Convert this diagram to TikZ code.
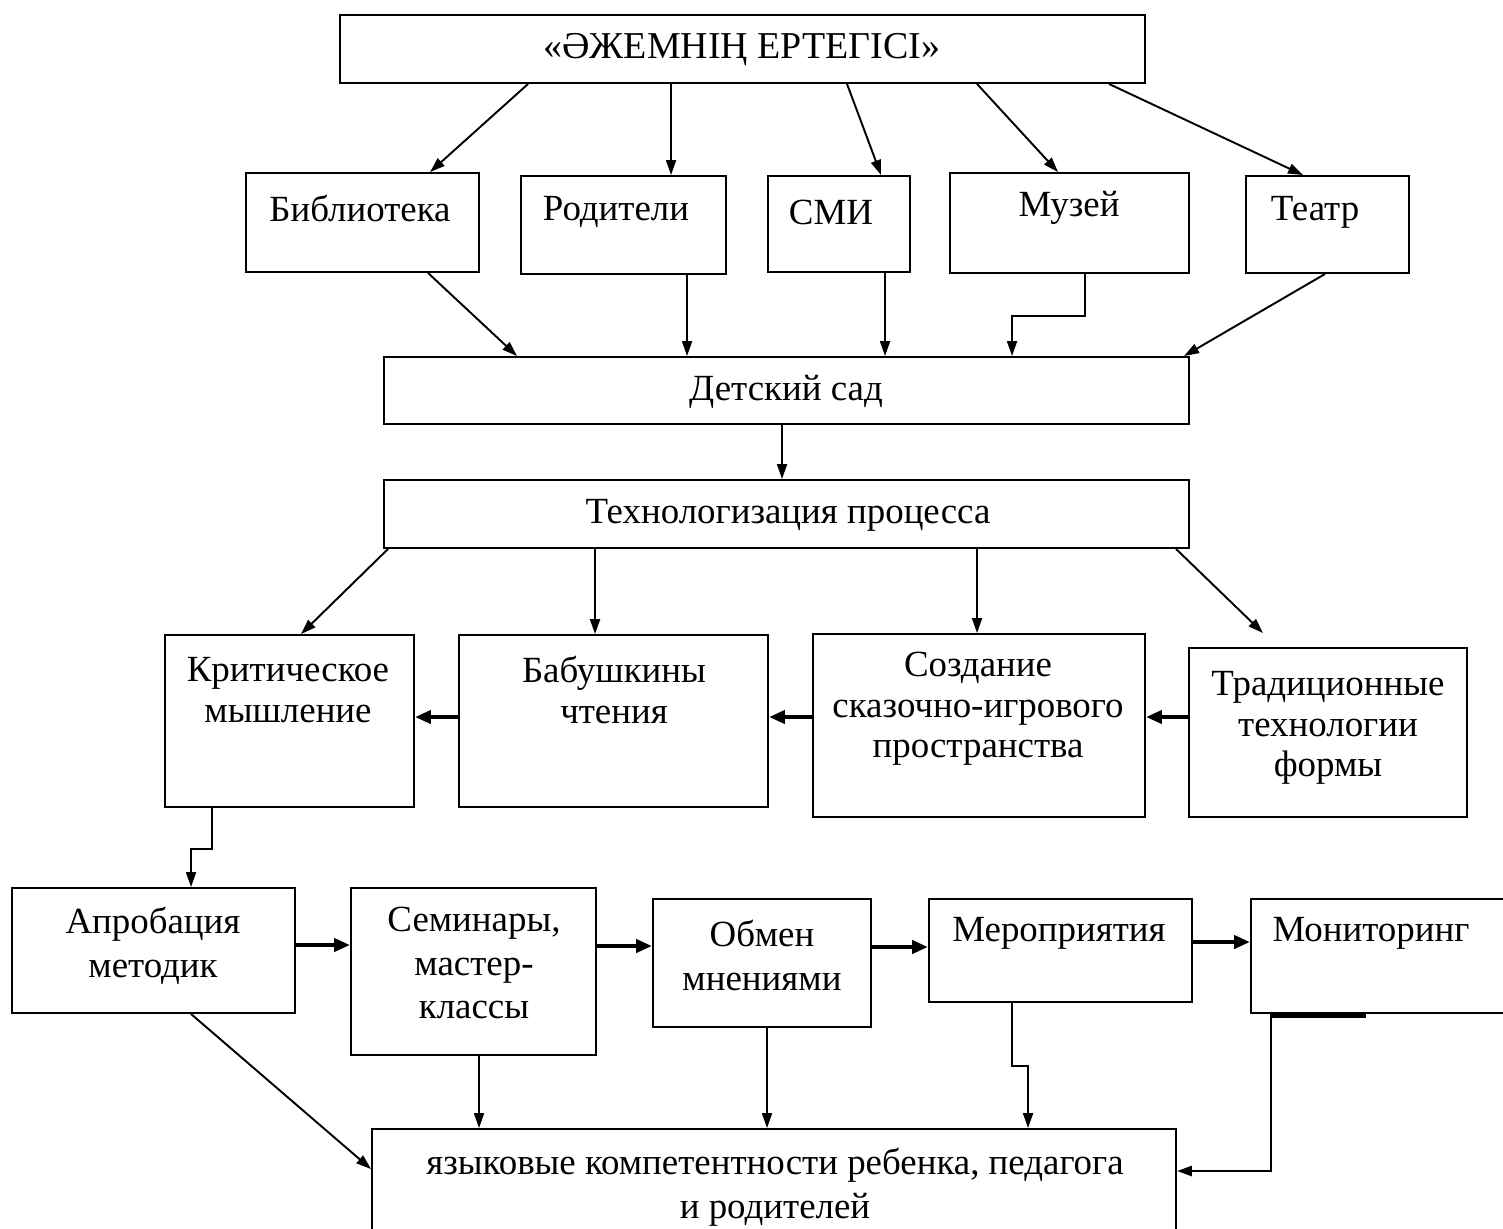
\documentclass[tikz,border=0pt]{standalone}
\usepackage{fontspec}
\setmainfont{Liberation Serif}
\usetikzlibrary{arrows.meta,calc}
\begin{document}
\begin{tikzpicture}[x=0.02cm,y=-0.02cm,
  box/.style n args={2}{draw,line width=1.1pt,inner sep=0pt,minimum width=#1*0.02cm,minimum height=#2*0.02cm},
  txt/.style={inner sep=0pt,align=center,font=\fontsize{21}{23}\selectfont},
  txtb/.style={inner sep=0pt,align=center,font=\fontsize{21}{25}\selectfont},
  con/.style={line width=1.1pt,-{Triangle[length=0.3cm,width=0.2cm]}},
  thk/.style={line width=2.4pt,-{Triangle[length=0.32cm,width=0.26cm]}},
  ln/.style={line width=1.1pt}]
\useasboundingbox (0,0) rectangle (1503,1228);
% boxes
\node[box={805}{68}] (top) at (742.5,49) {};
\node[box={233}{99}] (bib) at (362.5,222.5) {};
\node[box={205}{98}] (rod) at (623.5,225) {};
\node[box={142}{96}] (smi) at (839,224) {};
\node[box={239}{100}] (muz) at (1069.5,223) {};
\node[box={163}{97}] (teatr) at (1327.5,224.5) {};
\node[box={805}{67}] (sad) at (786.5,390.5) {};
\node[box={805}{68}] (tech) at (786.5,514) {};
\node[box={249}{172}] (krit) at (289.5,721) {};
\node[box={309}{172}] (bab) at (613.5,721) {};
\node[box={332}{183}] (soz) at (979,725.5) {};
\node[box={278}{169}] (trad) at (1328,732.5) {};
\node[box={283}{125}] (aprob) at (153.5,950.5) {};
\node[box={245}{167}] (sem) at (473.5,971.5) {};
\node[box={218}{128}] (obm) at (762,963) {};
\node[box={263}{103}] (mer) at (1060.5,950.5) {};
\node[box={269}{114}] (mon) at (1385.5,956) {};
\node[box={804}{116}] (yaz) at (774,1187) {};
% texts
\node[txt,font=\fontsize{21.6}{24}\selectfont] (topT) at (742,50) {«ӘЖЕМНІҢ ЕРТЕГІСІ»};
\node[txt] (bibT) at (360,208) {Библиотека};
\node[txt] (rodT) at (616,212) {Родители};
\node[txt] (smiT) at (831,212) {СМИ};
\node[txt] (muzT) at (1069,208) {Музей};
\node[txt] (teatrT) at (1315,212) {Театр};
\node[txt] (sadT) at (786,392) {Детский сад};
\node[txt] (techT) at (788,515) {Технологизация процесса};
\node[txt] (kritT) at (288,690) {Критическое\\мышление};
\node[txt] (babT) at (614,690) {Бабушкины\\чтения};
\node[txt] (sozT) at (978,709) {Создание\\сказочно-игрового\\пространства};
\node[txt] (tradT) at (1328,728) {Традиционные\\технологии\\формы};
\node[txtb] (aprobT) at (153,946) {Апробация\\методик};
\node[txtb] (semT) at (474,963) {Семинары,\\мастер-\\классы};
\node[txtb] (obmT) at (762,955) {Обмен\\мнениями};
\node[txtb] (merT) at (1059,933) {Мероприятия};
\node[txtb] (monT) at (1371,933) {Мониторинг};
\node[txtb] (yazT) at (775,1187) {языковые компетентности ребенка, педагога\\и родителей};
% helper levels
\coordinate (h1) at (0,717);
\coordinate (r1) at (0,945);
\coordinate (r2) at (0,946);
\coordinate (r3) at (0,947);
\coordinate (r4) at (0,942);
\coordinate (r5) at (0,1171);
% top to row 2
\draw[con] ($(top.south west)+(189,0)$) -- ($(bib.north west)+(185,0)$);
\draw[con] ($(top.south west)+(332,0)$) -- ($(rod.north west)+(151,0)$);
\draw[con] ($(top.south west)+(508,0)$) -- ($(smi.north west)+(114,0)$);
\draw[con] ($(top.south west)+(638,0)$) -- ($(muz.north west)+(109,0)$);
\draw[con] ($(top.south west)+(770,0)$) -- ($(teatr.north west)+(58,0)$);
% row 2 to sad
\draw[con] ($(bib.south west)+(183,0)$) -- ($(sad.north west)+(134,0)$);
\draw[con] ($(rod.south west)+(167,0)$) -- ($(sad.north west)+(304,0)$);
\draw[con] ($(smi.south west)+(118,0)$) -- ($(sad.north west)+(502,0)$);
\draw[con] ($(muz.south west)+(136,0)$) -- ++(0,42) -| ($(sad.north west)+(629,0)$);
\draw[con] ($(teatr.south west)+(80,0)$) -- ($(sad.north west)+(801,0)$);
% sad to tech
\draw[con] ($(sad.south west)+(399,0)$) -- ($(tech.north west)+(399,0)$);
% tech to row 4
\draw[con] ($(tech.south west)+(5,0)$) -- ($(krit.north west)+(137,0)$);
\draw[con] ($(tech.south west)+(212,0)$) -- ($(bab.north west)+(137,0)$);
\draw[con] ($(tech.south west)+(594,0)$) -- ($(soz.north west)+(165,0)$);
\draw[con] ($(tech.south west)+(793,0)$) -- ($(trad.north west)+(75,-14)$);
% row 4 horizontals
\draw[thk] (trad.west |- h1) -- (soz.east |- h1);
\draw[thk] (soz.west |- h1) -- (bab.east |- h1);
\draw[thk] (bab.west |- h1) -- (krit.east |- h1);
% krit to aprob
\draw[con] ($(krit.south west)+(48,0)$) -- ++(0,41) -| ($(aprob.north west)+(180,0)$);
% row 5 horizontals
\draw[thk] (aprob.east |- r1) -- (sem.west |- r1);
\draw[thk] (sem.east |- r2) -- (obm.west |- r2);
\draw[thk] (obm.east |- r3) -- (mer.west |- r3);
\draw[thk] (mer.east |- r4) -- (mon.west |- r4);
% row 5 to yaz
\draw[con] ($(aprob.south west)+(180,0)$) -- ($(yaz.north west)+(0,41)$);
\draw[con] ($(sem.south west)+(129,0)$) -- ($(yaz.north west)+(108,0)$);
\draw[con] ($(obm.south west)+(115,0)$) -- ($(yaz.north west)+(396,0)$);
\draw[con] ($(mer.south west)+(84,0)$) -- ++(0,63) -| ($(yaz.north west)+(657,0)$);
\draw[con,line width=1.6pt] ($(mon.south west)+(21,0)$) |- (yaz.east |- r5);
\draw[line width=2pt] ($(mon.south west)+(21,2)$) -- ++(95,0);
\end{tikzpicture}
\end{document}
